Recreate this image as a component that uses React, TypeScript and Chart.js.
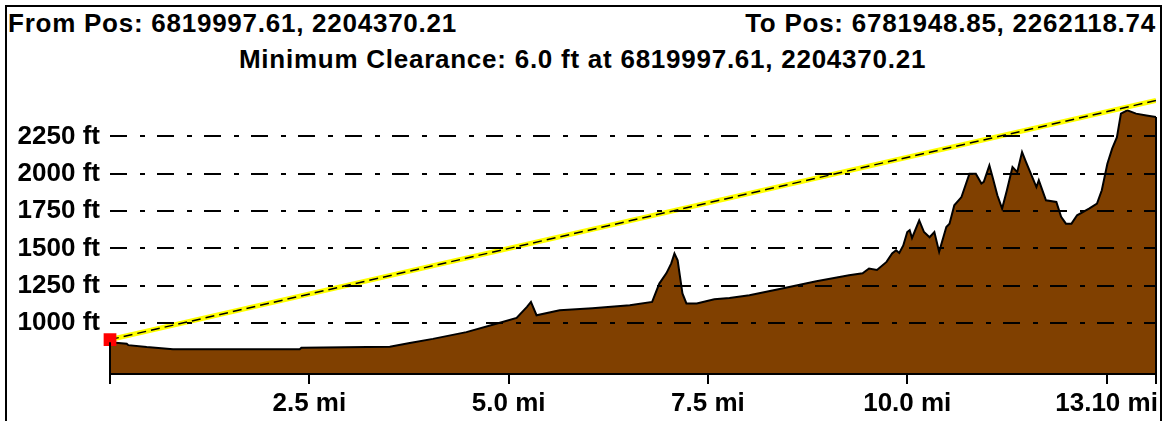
import React, { useEffect, useRef } from "react";
import { Chart, registerables } from "chart.js";

Chart.register(...registerables);

const headerFrom = "From Pos: 6819997.61, 2204370.21";
const headerTo = "To Pos: 6781948.85, 2262118.74";
const headerClearance = "Minimum Clearance: 6.0 ft at 6819997.61, 2204370.21";

// terrain profile: distance (mi) and elevation (ft)
const profileMiles = [
  0.0, 0.21, 0.23, 0.46, 0.79, 2.38, 2.4, 3.51, 3.76, 4.05, 4.47, 4.89, 5.1, 5.23, 5.28, 5.35,
  5.64, 6.05, 6.52, 6.8, 6.89, 6.98, 7.04, 7.08, 7.12, 7.18, 7.23, 7.36, 7.58, 7.77, 8.02, 8.43,
  8.86, 9.27, 9.44, 9.52, 9.62, 9.74, 9.81, 9.86, 9.9, 9.95, 10.0, 10.03, 10.06, 10.15, 10.21,
  10.28, 10.34, 10.4, 10.49, 10.53, 10.59, 10.68, 10.78, 10.86, 10.93, 10.96, 11.03, 11.07,
  11.13, 11.19, 11.25, 11.32, 11.38, 11.44, 11.49, 11.55, 11.62, 11.65, 11.74, 11.87, 11.93,
  11.99, 12.06, 12.13, 12.28, 12.38, 12.44, 12.51, 12.57, 12.63, 12.68, 12.76, 12.87, 13.0, 13.12,
];
const profileFeet = [
  872, 862, 853, 840, 826, 826, 835, 842, 868, 895, 940, 1003, 1035, 1109, 1142, 1053,
  1087, 1100, 1120, 1142, 1265, 1335, 1400, 1466, 1421, 1199, 1132, 1132, 1160, 1169, 1187, 1232,
  1281, 1321, 1334, 1366, 1356, 1410, 1466, 1488, 1470, 1520, 1610, 1622, 1570, 1688, 1610,
  1575, 1610, 1477, 1644, 1666, 1789, 1844, 2000, 2000, 1934, 1945, 2056, 1978,
  1856, 1767, 1889, 2045, 2011, 2145, 2078, 2000, 1911, 1956, 1822, 1811, 1711,
  1666, 1666, 1722, 1767, 1800, 1889, 2067, 2168, 2245, 2402, 2424, 2402, 2390, 2379,
];

// line of sight
const sightMiles = [0, 13.12];
const sightFeet = [890, 2490];

// start marker
const markerMiles = [0];
const markerFeet = [890];

const yTickValues = [1000, 1250, 1500, 1750, 2000, 2250];
const yTickLabels = ["1000 ft", "1250 ft", "1500 ft", "1750 ft", "2000 ft", "2250 ft"];
const xTickValues = [0, 2.5, 5, 7.5, 10, 12.5, 13.12];
const xTickLabels = ["", "2.5 mi", "5.0 mi", "7.5 mi", "10.0 mi", "13.10 mi", ""];

const GRID_DASH = [17, 13, 5, 12];
const FONT = "'Liberation Sans', Arial, sans-serif";

const toPoints = (xs: number[], ys: number[]) => xs.map((x, i) => ({ x, y: ys[i] }));

export default function App() {
  const ref = useRef<HTMLCanvasElement | null>(null);
  const overlayRef = useRef<HTMLCanvasElement | null>(null);
  const gridLayerRef = useRef<HTMLDivElement | null>(null);

  useEffect(() => {
    if (!ref.current) return;

    // draws the terrain's vertical end edges and the y grid above the chart
    const overlayPlugin = {
      id: "profileOverlay",
      afterDraw(chart: any) {
        const { left, right, bottom } = chart.chartArea;
        const ys = chart.scales.y;
        const oc = overlayRef.current;
        const ctx = oc && oc.getContext("2d");
        if (oc && ctx) {
          ctx.clearRect(0, 0, oc.width, oc.height);
          const meta = chart.getDatasetMeta(3);
          const pts = meta && meta.data;
          ctx.save();
          ctx.strokeStyle = "#000000";
          ctx.lineWidth = 2;
          if (pts && pts.length) {
            [pts[0], pts[pts.length - 1]].forEach((p: any) => {
              ctx.beginPath();
              ctx.moveTo(p.x, p.y);
              ctx.lineTo(p.x, bottom);
              ctx.stroke();
            });
          }
          ctx.setLineDash(GRID_DASH);
          yTickValues.forEach((v) => {
            const y = Math.round(ys.getPixelForValue(v));
            ctx.beginPath();
            ctx.moveTo(left, y);
            ctx.lineTo(right, y);
            ctx.stroke();
          });
          ctx.restore();
        }
        const layer = gridLayerRef.current;
        if (layer) {
          layer.innerHTML = "";
          const [a, b, c, d] = GRID_DASH;
          const p1 = a, p2 = a + b, p3 = a + b + c, p4 = a + b + c + d;
          yTickValues.forEach((v) => {
            const y = Math.round(ys.getPixelForValue(v));
            const line = document.createElement("div");
            line.style.position = "absolute";
            line.style.left = `${left}px`;
            line.style.top = `${y - 1}px`;
            line.style.width = `${right - left}px`;
            line.style.height = "2px";
            line.style.background = `repeating-linear-gradient(to right, #000 0px, #000 ${p1}px, transparent ${p1}px, transparent ${p2}px, #000 ${p2}px, #000 ${p3}px, transparent ${p3}px, transparent ${p4}px)`;
            layer.appendChild(line);
          });
        }
      },
    };

    const chart = new Chart(ref.current, {
      type: "line",
      data: {
        datasets: [
          {
            label: "start",
            data: toPoints(markerMiles, markerFeet),
            showLine: false,
            pointStyle: "rect",
            pointRadius: 9,
            pointBackgroundColor: "#ff0000",
            pointBorderWidth: 0,
            clip: false,
            order: 0,
          },
          {
            label: "sight dash",
            data: toPoints(sightMiles, sightFeet),
            borderColor: "#000000",
            borderWidth: 1.5,
            borderDash: [9, 5],
            pointRadius: 0,
            fill: false,
            order: 1,
          },
          {
            label: "sight",
            data: toPoints(sightMiles, sightFeet),
            borderColor: "#ffff00",
            borderWidth: 5,
            pointRadius: 0,
            fill: false,
            order: 2,
          },
          {
            label: "terrain",
            data: toPoints(profileMiles, profileFeet),
            borderColor: "#000000",
            borderWidth: 2,
            backgroundColor: "#804000",
            fill: "start",
            pointRadius: 0,
            tension: 0,
            order: 3,
          },
        ],
      },
      options: {
        responsive: false,
        animation: false,
        devicePixelRatio: 1,
        layout: { padding: { top: 96, right: 8, left: 0, bottom: 0 } },
        plugins: {
          legend: { display: false },
          tooltip: { enabled: false },
          title: { display: false },
        },
        scales: {
          x: {
            type: "linear",
            min: 0,
            max: 13.12,
            afterBuildTicks: (s: any) => {
              s.ticks = xTickValues.map((value) => ({ value }));
            },
            afterFit: (s: any) => {
              s.height = 47;
            },
            ticks: {
              autoSkip: false,
              maxRotation: 0,
              padding: 4,
              color: "#000",
              font: { family: FONT, size: 26, weight: "bold" },
              callback: (v: any) => {
                const i = xTickValues.indexOf(Number(v));
                return i >= 0 ? xTickLabels[i] : "";
              },
            },
            grid: {
              drawOnChartArea: false,
              drawTicks: true,
              tickLength: 10,
              color: "#000",
              lineWidth: 2,
            },
            border: { display: true, color: "#000", width: 2, z: 1 },
          },
          y: {
            type: "linear",
            min: 660,
            max: 2520,
            afterBuildTicks: (s: any) => {
              s.ticks = yTickValues.map((value) => ({ value }));
            },
            afterFit: (s: any) => {
              s.width = 110;
            },
            ticks: {
              padding: 10,
              color: "#000",
              font: { family: FONT, size: 26, weight: "bold" },
              callback: (v: any) => {
                const i = yTickValues.indexOf(Number(v));
                return i >= 0 ? yTickLabels[i] : "";
              },
            },
            grid: { color: "#000", lineWidth: 2, drawTicks: false },
            border: { display: false, dash: GRID_DASH },
          },
        },
      },
      plugins: [overlayPlugin],
    } as any);
    return () => {
      chart.destroy();
      const oc = overlayRef.current;
      const octx = oc && oc.getContext("2d");
      if (oc && octx) octx.clearRect(0, 0, oc.width, oc.height);
      if (gridLayerRef.current) gridLayerRef.current.innerHTML = "";
    };
  }, []);

  const textStyle: React.CSSProperties = {
    position: "absolute",
    fontFamily: FONT,
    fontWeight: "bold",
    fontSize: 26,
    lineHeight: "26px",
    letterSpacing: "0.75px",
    whiteSpace: "nowrap",
    color: "#000",
  };

  return (
    <div
      style={{
        position: "fixed",
        left: 0,
        top: 0,
        width: 1165,
        height: 421,
        background: "#fff",
        overflow: "hidden",
      }}
    >
      <div
        style={{
          position: "absolute",
          left: 5,
          top: 5,
          width: 1153,
          height: 500,
          borderLeft: "2px solid #000",
          borderTop: "2px solid #000",
          borderRight: "2px solid #000",
        }}
      />
      <div style={{ ...textStyle, left: 8, top: 10 }}>{headerFrom}</div>
      <div style={{ ...textStyle, right: 9, top: 10 }}>{headerTo}</div>
      <div style={{ ...textStyle, left: 0, width: 1165, top: 46, textAlign: "center" }}>
        {headerClearance}
      </div>
      <canvas
        ref={ref}
        width={1165}
        height={421}
        style={{ position: "absolute", left: 0, top: 0, width: 1165, height: 421 }}
      />
      <canvas
        ref={overlayRef}
        width={1165}
        height={421}
        style={{
          position: "absolute",
          left: 0,
          top: 0,
          width: 1165,
          height: 421,
          pointerEvents: "none",
        }}
      />
      <div
        ref={gridLayerRef}
        style={{
          position: "absolute",
          left: 0,
          top: 0,
          width: 1165,
          height: 421,
          pointerEvents: "none",
        }}
      />
    </div>
  );
}
